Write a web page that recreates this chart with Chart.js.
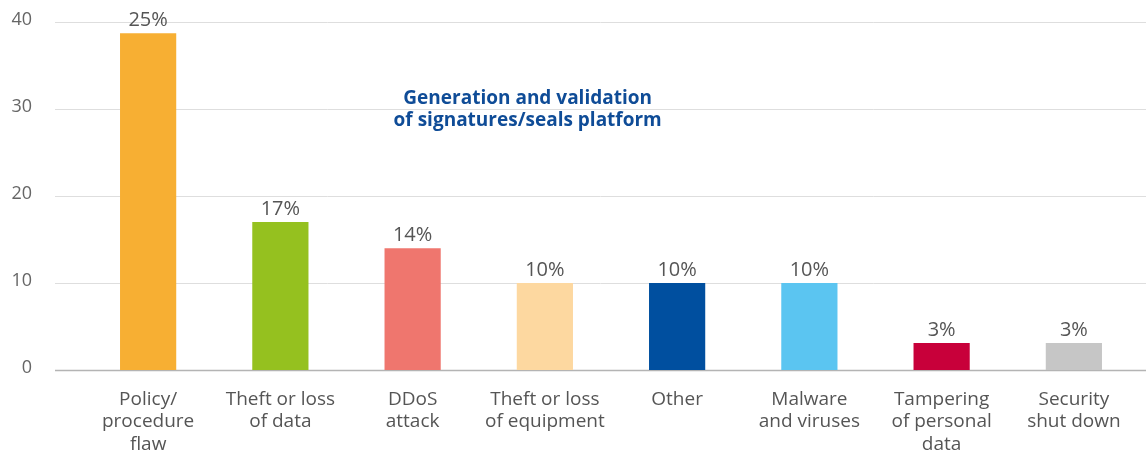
<!DOCTYPE html>
<html>
<head>
<meta charset="utf-8">
<script src="https://cdn.jsdelivr.net/npm/chart.js@4.4.1/dist/chart.umd.min.js"></script>
<style>
html,body{margin:0;padding:0;background:#fff;}
#wrap{width:1146px;height:456px;}
</style>
</head>
<body>
<div id="wrap"><canvas id="c" width="1146" height="456"></canvas></div>
<script>
const categories = [
  ["Policy/","procedure","flaw"],
  ["Theft or loss","of data"],
  ["DDoS","attack"],
  ["Theft or loss","of equipment"],
  ["Other"],
  ["Malware","and viruses"],
  ["Tampering","of personal","data"],
  ["Security","shut down"]
];
const values = [38.7, 17, 14, 10, 10, 10, 3.1, 3.1];
const percentLabels = ["25%","17%","14%","10%","10%","10%","3%","3%"];
const barColors = ["#F7AF33","#95C11F","#EF766E","#FDD8A0","#004F9F","#5BC5F1","#C8003A","#C6C6C6"];
const yTicks = [0, 10, 20, 30, 40];
const annotationLines = ["Generation and validation","of signatures/seals platform"];

const FONT = "'Open Sans', 'Noto Sans', sans-serif";

const gridPlugin = {
  id: 'extGrid',
  beforeDatasetsDraw(chart) {
    const ctx = chart.ctx, y = chart.scales.y;
    ctx.save();
    yTicks.forEach(v => {
      const py = Math.round(y.getPixelForValue(v)) + 0.5;
      ctx.strokeStyle = v === 0 ? '#b4b4b4' : '#dedede';
      ctx.lineWidth = v === 0 ? 1.5 : 1;
      ctx.beginPath();
      ctx.moveTo(55, py);
      ctx.lineTo(chart.width, py);
      ctx.stroke();
    });
    ctx.restore();
  }
};

const labelPlugin = {
  id: 'barLabels',
  afterDatasetsDraw(chart) {
    const ctx = chart.ctx;
    const meta = chart.getDatasetMeta(0);
    ctx.save();
    ctx.font = "20px " + FONT;
    ctx.fillStyle = '#555555';
    ctx.textAlign = 'center';
    ctx.textBaseline = 'alphabetic';
    meta.data.forEach((bar, i) => {
      ctx.fillText(percentLabels[i], bar.x, bar.y - 7);
    });
    // annotation
    ctx.font = "bold 19px " + FONT;
    ctx.fillStyle = '#0F4C97';
    ctx.textBaseline = 'middle';
    const ax = chart.scales.x.getPixelForValue(2.87);
    ctx.fillText(annotationLines[0], ax, 99);
    ctx.fillText(annotationLines[1], ax, 121);
    ctx.restore();
  }
};

new Chart(document.getElementById('c'), {
  type: 'bar',
  data: {
    labels: categories,
    datasets: [{
      data: values,
      backgroundColor: barColors,
      borderWidth: 0,
      barPercentage: 0.85,
      categoryPercentage: 0.5
    }]
  },
  options: {
    responsive: false,
    animation: false,
    layout: { padding: { top: 22, right: 6, left: 0, bottom: 0 } },
    plugins: { legend: { display: false }, tooltip: { enabled: false } },
    scales: {
      x: {
        afterFit(scale) { scale.height = 86; },
        grid: { display: false, drawTicks: false },
        border: { display: false },
        ticks: {
          color: '#555555',
          font: { family: FONT, size: 19, lineHeight: 1.16 },
          padding: 19,
          maxRotation: 0,
          autoSkip: false
        }
      },
      y: {
        min: 0,
        max: 40,
        afterFit(scale) { scale.width = 82; scale.paddingTop = 0; scale.paddingBottom = 0; },
        grid: { display: false, drawTicks: false },
        border: { display: false },
        ticks: {
          stepSize: 10,
          color: '#666666',
          font: { family: FONT, size: 18 },
          padding: 50,
          labelOffset: -2
        }
      }
    }
  },
  plugins: [gridPlugin, labelPlugin]
});
</script>
</body>
</html>
